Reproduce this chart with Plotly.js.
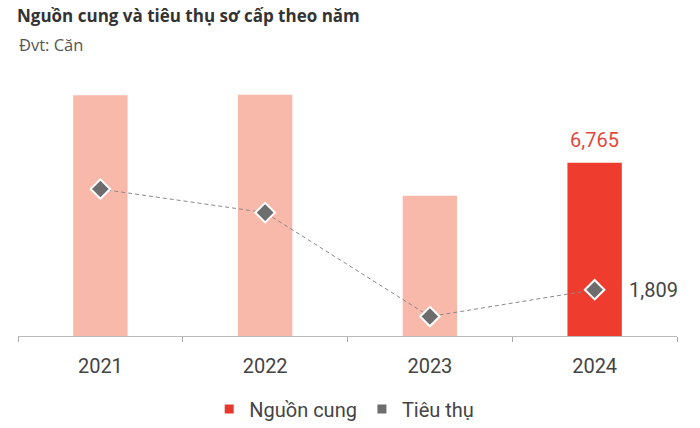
<!DOCTYPE html>
<html>
<head>
<meta charset="utf-8">
<script src="https://cdn.plot.ly/plotly-3.0.1.min.js"></script>
<style>html,body{margin:0;padding:0;background:#fff;}#chart{width:700px;height:428px;}</style>
</head>
<body>
<div id="chart"></div>
<script>
const years = ['2021', '2022', '2023', '2024'];
const supply = [9400, 9425, 5475, 6765];
const sales = [5740, 4820, 760, 1809];
const supplyName = 'Nguồn cung';
const salesName = 'Tiêu thụ';
const titleText = 'Nguồn cung và tiêu thụ sơ cấp theo năm';
const unitText = 'Đvt: Căn';

const fmt = v => v.toLocaleString('en-US');
const FONT = 'Roboto, "Open Sans", sans-serif';
const TFONT = '"Open Sans", Roboto, sans-serif';
const lightRed = '#F8B9AB';
const red = '#EE3C2F';
const gray = '#6d6d6d';

const last = years.length - 1;

const traces = [
  {
    type: 'bar', x: years.slice(0, last), y: supply.slice(0, last),
    marker: {color: lightRed}, width: 0.33, showlegend: false
  },
  {
    type: 'bar', x: years.slice(last), y: supply.slice(last),
    marker: {color: red}, width: 0.33, showlegend: false
  },
  {
    type: 'scatter', mode: 'lines+markers', x: years, y: sales,
    line: {color: '#8a8a8a', width: 1, dash: '4px,3px'},
    marker: {symbol: 'diamond', size: 15, color: gray, line: {color: '#ffffff', width: 2}},
    showlegend: false, cliponaxis: false
  },
  {
    type: 'scatter', mode: 'markers', x: [years[0]], y: [null], name: supplyName,
    marker: {symbol: 'square', size: 9, color: '#E8382D'}
  },
  {
    type: 'scatter', mode: 'markers', x: [years[0]], y: [null], name: salesName,
    marker: {symbol: 'square', size: 9, color: gray}
  }
];

const layout = {
  width: 700, height: 428,
  margin: {l: 18, r: 23, t: 80, b: 92, autoexpand: false},
  paper_bgcolor: '#ffffff', plot_bgcolor: '#ffffff',
  barmode: 'overlay',
  font: {family: FONT, color: '#444'},
  title: {
    text: '<b>' + titleText + '</b>', xref: 'container', yref: 'container',
    x: 17 / 700, xanchor: 'left', y: 1 - 16 / 428, yanchor: 'middle',
    font: {family: TFONT, size: 17, color: '#333'}
  },
  xaxis: {
    type: 'category', categoryorder: 'array', categoryarray: years,
    range: [-0.5, years.length - 0.5], autorange: false,
    tickson: 'boundaries', ticks: 'outside', ticklen: 5, tickcolor: '#aaaaaa',
    showline: true, linecolor: '#bbbbbb', linewidth: 1, showgrid: false, zeroline: false,
    tickangle: 0, ticklabelstandoff: 12, automargin: false,
    tickfont: {family: FONT, size: 20, color: '#444'}
  },
  yaxis: {range: [0, 10000], autorange: false, visible: false, showgrid: false, zeroline: false},
  legend: {
    orientation: 'h', x: 0.495, xanchor: 'center', yref: 'container', y: 1 - 409 / 428, yanchor: 'middle',
    font: {family: FONT, size: 20, color: '#444'}, itemwidth: 30, tracegroupgap: 0
  },
  annotations: [
    {
      xref: 'paper', yref: 'paper', x: -0.0015, y: (336 - 44) / 256, xanchor: 'left', yanchor: 'middle',
      text: unitText, showarrow: false, font: {family: TFONT, size: 16.5, color: '#555'}
    },
    {
      xref: 'x', yref: 'y', x: last, y: supply[last], xanchor: 'center', yanchor: 'bottom', yshift: 9,
      text: fmt(supply[last]), showarrow: false, font: {family: FONT, size: 20, color: '#E2473B'}
    },
    {
      xref: 'x', yref: 'y', x: last, y: sales[last], xanchor: 'left', yanchor: 'middle', xshift: 32,
      text: fmt(sales[last]), showarrow: false, font: {family: FONT, size: 20, color: '#444'}
    }
  ]
};

Plotly.newPlot('chart', traces, layout, {displayModeBar: false, staticPlot: true});
</script>
</body>
</html>
